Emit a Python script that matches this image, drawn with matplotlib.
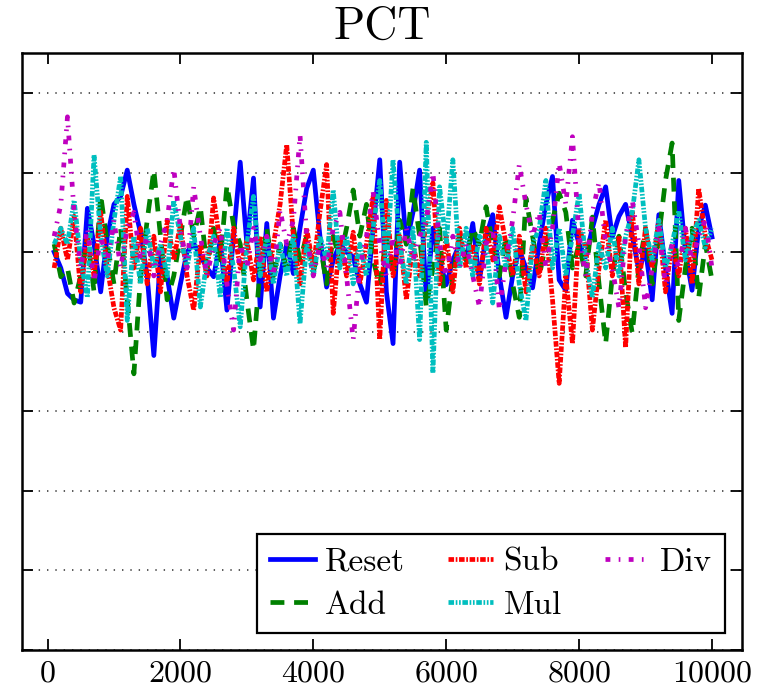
# PCT traces for the five update rules
import matplotlib
matplotlib.use("Agg")
import matplotlib.pyplot as plt
import numpy as np

plt.rcParams['font.family'] = 'serif'
plt.rcParams['font.serif'] = ['cmr10', 'DejaVu Serif']
plt.rcParams['axes.formatter.use_mathtext'] = True
plt.rcParams['lines.scale_dashes'] = False

# sample positions, 100 .. 10000 in steps of 100
steps = np.arange(100, 10001, 100)

reset = [0.0, -0.2, -0.52, -0.6, -0.63, 0.55, 0.1, -0.5, 0.2, 0.6,
         0.7, 1.03, 0.6, 0.24, -0.3, -1.3, -0.06, -0.3, -0.83, -0.4,
         0.0, 0.11, -0.05, -0.2, -0.31, 0.15, -0.73, 0.2, 1.13, 0.1,
         0.93, -0.69, 0.36, -0.83, -0.3, 0.1, -0.27, 0.3, 0.8, 1.03,
         0.2, -0.44, -0.1, 0.1, 0.0, -0.06, -0.4, -0.63, 0.3, 1.16,
         -0.5, -1.15, 1.13, 0.1, 0.5, 1.03, -0.6, 0.3, -0.1, -0.41,
         -0.1, 0.1, -0.1, 0.36, -0.35, 0.2, 0.47, -0.3, -0.82, -0.3,
         0.03, -0.2, -0.45, 0.1, 0.6, 0.95, -0.35, -0.48, 0.4, 0.1,
         -0.06, 0.3, 0.6, 0.82, 0.19, 0.45, 0.6, 0.2, -0.23, 0.03,
         -0.6, 0.47, -0.2, -0.77, 0.9, 0.0, -0.48, 0.3, 0.59, 0.19]

add = [0.1, -0.31, -0.2, -0.64, -0.3, 0.2, -0.5, 0.72, 0.1, -0.4,
       0.3, -0.6, -1.53, -0.3, 0.4, 1.03, 0.2, -0.6, -0.3, 0.2,
       0.7, 0.2, 0.57, -0.2, 0.3, -0.1, 0.84, 0.34, 0.1, -0.6,
       -1.23, -0.2, 0.3, -0.3, 0.1, -0.2, 0.3, -0.1, 0.2, -0.25,
       0.1, -0.4, 0.2, -0.1, 0.3, 0.78, 0.2, 0.6, -0.1, -0.42,
       0.2, -0.3, 0.4, 0.1, 0.8, 0.2, -0.69, -0.2, 0.3, -0.98,
       -0.3, 0.2, -0.1, 0.3, 0.1, 0.57, 0.1, -0.3, 0.2, -0.4,
       -0.82, 0.68, 0.2, -0.3, 0.1, 0.4, 0.74, 0.5, -0.2, 0.1,
       -0.3, 0.44, -0.4, -1.15, -0.3, 0.2, -0.5, -1.02, -0.2, 0.3,
       -0.4, 0.2, 0.9, 1.37, -0.86, -0.2, 0.3, -0.57, 0.1, -0.35]

sub = [-0.2, 0.3, -0.1, 0.45, -0.5, 0.2, -0.3, 0.5, -0.2, -0.7,
       -0.98, 0.7, -0.2, 0.3, -0.4, 0.2, -0.5, 0.4, -0.1, 0.35,
       -0.3, -0.73, 0.1, -0.3, 0.68, 0.1, -0.4, 0.3, -0.2, 0.15,
       -0.35, 0.2, -0.5, 0.1, 0.6, 1.35, 0.2, -0.4, 0.3, -0.2,
       0.5, 1.1, -0.77, 0.2, -0.3, 0.25, -0.4, 0.1, 0.7, -1.1,
       0.65, -0.3, 0.2, -0.6, 0.1, -0.3, 0.4, 0.87, -0.4, 0.2,
       -0.5, 0.3, -0.2, 0.1, -0.4, 0.3, -0.1, 0.57, 0.1, -0.3,
       0.2, -0.5, 0.1, -0.3, 0.3, -0.6, -1.65, -0.3, -1.15, 0.3,
       0.06, -0.98, -0.2, 0.4, -0.3, 0.2, -1.2, 0.52, -0.4, 0.3,
       -0.2, 0.4, -0.5, 0.1, -0.3, 0.3, -0.4, 0.8, 0.2, -0.1]

mul = [0.1, 0.3, 0.1, 0.65, -0.1, -0.57, 1.22, 0.2, -0.3, 0.4,
       0.95, -0.86, 0.2, -0.4, 0.3, -0.2, 0.1, -0.3, 0.65, 0.2,
       -0.2, 0.3, -0.69, -0.1, 0.2, -0.57, 0.3, -0.2, -0.94, 0.1,
       0.7, -0.3, 0.2, -0.4, 0.1, -0.3, 0.2, -0.9, 0.1, -0.3,
       0.2, -0.1, 0.78, -0.2, 0.2, -0.4, 0.1, -0.3, 0.3, 0.9,
       -0.2, 1.16, 0.1, -0.4, 0.3, -1.1, 1.38, -1.52, 0.82, 0.1,
       1.16, -0.2, 0.3, -0.3, 0.2, 0.1, -0.64, 0.2, -0.2, 0.3,
       -0.4, -0.86, 0.1, 0.3, 0.9, -0.2, 0.3, -0.3, 0.2, 0.74,
       -0.1, -0.57, 0.1, -0.2, 0.3, -0.3, 0.2, 0.5, 1.16, 0.3,
       -0.1, 0.4, -0.2, 0.1, 0.52, -0.1, 0.2, 0.4, 0.06, 0.3]

div = [0.2, 0.6, 1.7, 0.5, -0.2, 0.3, -0.38, 0.2, -0.1, 0.4,
       -0.2, 0.3, 0.5, -0.1, 0.2, -0.3, 0.1, 0.4, 1.05, 0.3,
       -0.2, 0.82, 0.2, -0.3, 0.1, 0.3, -0.4, -0.98, 0.1, -0.2,
       0.3, -0.1, 0.2, -0.3, 0.53, 0.1, 0.4, 1.47, 0.2, -0.3,
       0.1, -0.2, 0.3, 0.5, -0.3, -1.1, -0.2, 0.2, 0.76, 0.1,
       -0.3, 0.2, -0.2, 0.3, -0.1, 0.2, 0.4, 1.0, 0.1, -0.3,
       0.2, -0.2, 0.1, -0.3, -0.69, 0.1, 0.3, -0.73, -0.1, 0.4,
       1.1, 0.6, 0.2, 0.5, -0.2, 0.3, 1.12, 0.6, 1.45, 0.2,
       -0.3, 0.5, 0.88, 0.1, -0.2, -0.7, 0.2, 0.65, 0.1, -0.7,
       -0.2, 0.3, -0.4, 0.1, -0.2, 0.3, -0.1, 0.2, 0.4, -0.2]

fig = plt.figure(figsize=(7.68, 6.9), dpi=100)
ax = fig.add_axes([0.029, 0.058, 0.937, 0.865])

lw = 3.4
ax.plot(steps, reset, color='b', lw=lw, label='Reset')
ax.plot(steps, add, color='g', lw=lw, dashes=(10, 7), label='Add')
ax.plot(steps, sub, color='r', lw=lw, dashes=(4, 1.2, 1.2, 1.2), label='Sub')
ax.plot(steps, mul, color='c', lw=lw, dashes=(4, 1.2, 1.2, 1.2, 1.2, 1.2), label='Mul')
ax.plot(steps, div, color='m', lw=lw, dashes=(3.5, 6, 1.2, 6), label='Div')

ax.set_xlim(-380, 10450)
ax.set_ylim(-5, 2.5)
ax.set_xticks([0, 2000, 4000, 6000, 8000, 10000])
ax.set_yticks(range(-5, 3))
ax.set_yticklabels([])
ax.yaxis.grid(True, linestyle=(0, (1, 5)), color='0.3', lw=1.3)

ax.tick_params(direction='in', top=True, right=True, length=8, width=1.3,
               labelsize=23, pad=7)
for s in ax.spines.values():
    s.set_linewidth(1.8)

ax.set_title('PCT', fontsize=33, pad=10)

leg = ax.legend(loc='lower right', ncol=3, fontsize=24, fancybox=False,
                framealpha=1, edgecolor='k', handlelength=1.35,
                columnspacing=1.3, handletextpad=0.3, borderaxespad=0.5,
                labelspacing=0.42, borderpad=0.4)
leg.get_frame().set_linewidth(1.6)

fig.savefig('out.png', dpi=100)
